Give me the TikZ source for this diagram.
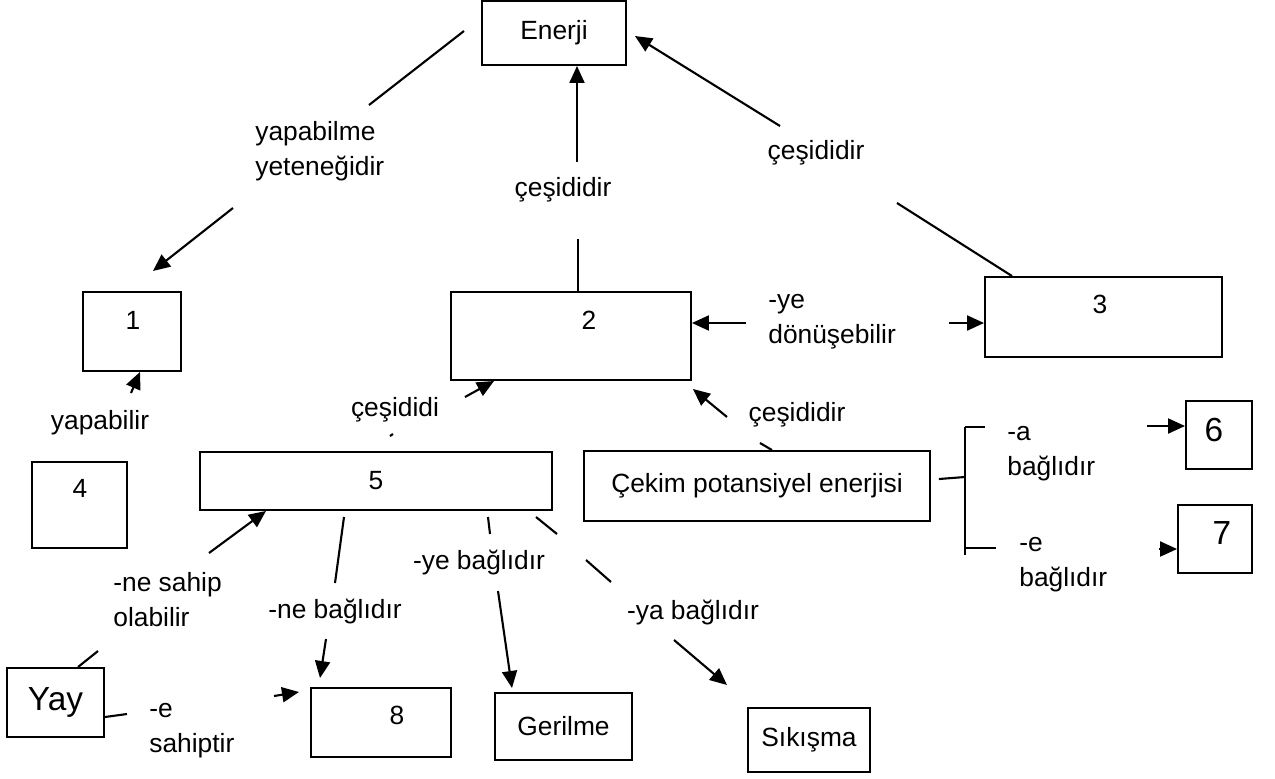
\documentclass[tikz,border=0pt]{standalone}
\usepackage{fontspec}
\setmainfont{Liberation Sans}
\usetikzlibrary{arrows.meta}
\tikzset{
  box/.style={draw,line width=1.1pt,inner sep=0pt},
  lbl/.style={font=\fontsize{15}{20}\selectfont,inner sep=0pt},
  big/.style={font=\fontsize{19}{22}\selectfont,inner sep=0pt},
  ln/.style={line width=1.2pt},
  arr/.style={line width=1.2pt,-{Triangle[length=0.34cm,width=0.3cm]}}
}
\begin{document}
\begin{tikzpicture}[x=0.02cm,y=-0.02cm]
\useasboundingbox (0,0) rectangle (1275,778);
% boxes
\node[box,lbl,minimum width=2.88cm,minimum height=1.28cm] (enerji) at (554,33) {Enerji};
\node[box,minimum width=1.96cm,minimum height=1.58cm] (b1) at (132,331.5) {};
\node[box,minimum width=4.8cm,minimum height=1.76cm] (b2) at (571,336) {};
\node[box,minimum width=4.74cm,minimum height=1.6cm] (b3) at (1103.5,317) {};
\node[box,minimum width=1.9cm,minimum height=1.72cm] (b4) at (79.5,505) {};
\node[box,lbl,minimum width=7.04cm,minimum height=1.16cm] (b5) at (376,481) {5};
\node[box,lbl,minimum width=6.92cm,minimum height=1.4cm] (cekim) at (757,486) {Çekim potansiyel enerjisi};
\node[box,minimum width=1.32cm,minimum height=1.36cm] (b6) at (1219,435) {};
\node[box,minimum width=1.48cm,minimum height=1.36cm] (b7) at (1215,539) {};
\node[box,big,minimum width=1.94cm,minimum height=1.38cm] (yay) at (55.5,702.5) {Yay};
\node[box,minimum width=2.8cm,minimum height=1.38cm] (b8) at (381,722.5) {};
\node[box,lbl,minimum width=2.74cm,minimum height=1.34cm] (gerilme) at (563.5,726.5) {Gerilme};
\node[box,lbl,minimum width=2.44cm,minimum height=1.28cm] (sikisma) at (809,740) {Sıkışma};
% numbers
\node[lbl] (n1) at (133,320) {1};
\node[lbl] (n2) at (589,320) {2};
\node[lbl] (n3) at (1100,304) {3};
\node[lbl] (n4) at (80,488) {4};
\node[big] (n6) at (1214,430) {6};
\node[big] (n7) at (1222,533) {7};
\node[lbl] (n8) at (397,715) {8};

% Enerji - 1
\coordinate (a1) at (464,31);
\coordinate (a2) at (369,105);
\coordinate (a3) at (233,208);
\coordinate (a4) at (153,271);
\draw[ln] (a1) -- (a2);
\draw[arr] (a3) -- (a4);
\node[lbl,align=left,anchor=west] (yap) at (255,151) {yapabilme\\yeteneğidir};

% Enerji - 2
\coordinate (c1) at (577,162);
\coordinate (c2) at (578,239);
\draw[arr] (c1) -- (enerji.south -| c1);
\draw[ln] (c2) -- (b2.north -| c2);
\node[lbl] (ces1) at (563,190) {çeşididir};

% Enerji - 3
\coordinate (d1) at (780,126);
\coordinate (d2) at (897,203);
\coordinate (d3) at (1012,277);
\draw[arr] (d1) -- ([shift={(8,3)}]enerji.east);
\draw[ln] (d2) -- (b3.north -| d3);
\node[lbl] (ces2) at (816,153) {çeşididir};

% 2 - 3
\coordinate (e1) at (746,323);
\coordinate (e2) at (949,323);
\draw[arr] (e1) -- (e1 -| b2.east);
\draw[arr] (e2) -- (e2 -| b3.west);
\node[lbl,align=left,anchor=west] (don) at (768,322) {-ye\\dönüşebilir};

% 4 - 1
\coordinate (f1) at (131,393);
\coordinate (f2) at (140,372);
\draw[arr] (f1) -- (b1.south -| f2);
\node[lbl] (yapb) at (100,423) {yapabilir};

% 5 - 2
\coordinate (g1) at (465,397);
\coordinate (g2) at (494,381);
\draw[arr] (g1) -- (g2);
\draw[ln] (390,436) -- (393,434);
\node[lbl] (ces3) at (395,410) {çeşididi};

% cekim - 2
\coordinate (h1) at (727,417);
\coordinate (h2) at (760,443);
\coordinate (h3) at (772,452);
\draw[arr] (h1) -- ([shift={(1,8)}]b2.south east);
\draw[ln] (h2) -- (cekim.north -| h3);
\node[lbl] (ces4) at (797,415) {çeşididir};

% cekim - 6, 7
\coordinate (k1) at (965,477);
\coordinate (k2) at (965,427);
\coordinate (k3) at (965,555);
\coordinate (k4) at (985,427);
\coordinate (k5) at (996,548);
\coordinate (k6) at (1147,426);
\coordinate (k7) at (1159,549);
\draw[ln] ([xshift=0.16cm]cekim.east |- 0,479) -- (k1);
\draw[ln] (k2) -- (k3);
\draw[ln] (k2) -- (k4);
\draw[ln] (k3 |- k5) -- (k5);
\draw[arr] (k6) -- (k6 -| b6.west);
\draw[arr] (k7) -- (k7 -| b7.west);
\node[lbl,align=left,anchor=west] (bag1) at (1007,454) {-a\\bağlıdır};
\node[lbl,align=left,anchor=west] (bag2) at (1019,565) {-e\\bağlıdır};

% Yay - 5, 8
\coordinate (m1) at (209,553);
\coordinate (m2) at (266,506);
\coordinate (m3) at (78,668);
\coordinate (m4) at (98,651);
\coordinate (m5) at (104,717);
\coordinate (m6) at (127,714);
\coordinate (m7) at (274,696);
\coordinate (m8) at (299,692);
\draw[arr] (m1) -- (b5.south -| m2);
\draw[ln] (yay.north -| m3) -- (m4);
\draw[ln] (m5 -| yay.east) -- (m6);
\draw[arr] (m7) -- (m8);
\node[lbl,align=left,anchor=west] (sah1) at (113,600) {-ne sahip\\olabilir};
\node[lbl,align=left,anchor=west] (sah2) at (149,731) {-e\\sahiptir};

% 5 - 8, Gerilme, Sikisma
\coordinate (p1) at (344,517);
\coordinate (p2) at (335,583);
\coordinate (p3) at (326,639);
\coordinate (p4) at (320,678);
\draw[ln] (p1) -- (p2);
\draw[arr] (p3) -- (p4);
\node[lbl] (bag3) at (335,612) {-ne bağlıdır};
\coordinate (q1) at (488,517);
\coordinate (q2) at (490,534);
\coordinate (q3) at (498,591);
\coordinate (q4) at (512,688);
\draw[ln] (q1) -- (q2);
\draw[arr] (q3) -- (q4);
\node[lbl] (bag4) at (479,563) {-ye bağlıdır};
\coordinate (r1) at (536,517);
\coordinate (r2) at (557,534);
\coordinate (r3) at (586,560);
\coordinate (r4) at (611,582);
\coordinate (r5) at (674,640);
\coordinate (r6) at (727,685);
\draw[ln] (r1) -- (r2);
\draw[ln] (r3) -- (r4);
\draw[arr] (r5) -- (r6);
\node[lbl] (bag5) at (693,613) {-ya bağlıdır};
\end{tikzpicture}
\end{document}
